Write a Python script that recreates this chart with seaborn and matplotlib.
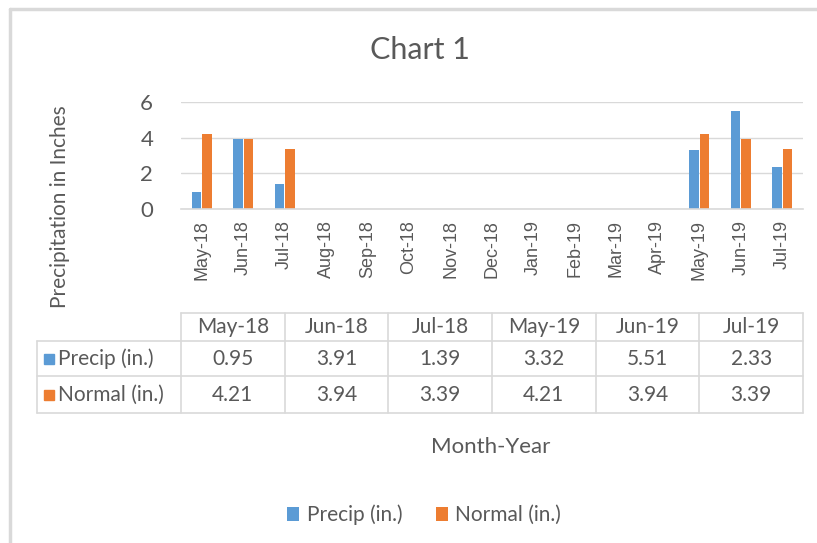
import numpy as np
import pandas as pd
import seaborn as sns
import matplotlib.pyplot as plt
from matplotlib.lines import Line2D
from matplotlib.patches import Patch

# data
months = ["May-18", "Jun-18", "Jul-18", "Aug-18", "Sep-18", "Oct-18", "Nov-18",
          "Dec-18", "Jan-19", "Feb-19", "Mar-19", "Apr-19", "May-19", "Jun-19", "Jul-19"]
nan = np.nan
precip = [0.95, 3.91, 1.39, nan, nan, nan, nan, nan, nan, nan, nan, nan, 3.32, 5.51, 2.33]
normal = [4.21, 3.94, 3.39, nan, nan, nan, nan, nan, nan, nan, nan, nan, 4.21, 3.94, 3.39]
series = ["Precip (in.)", "Normal (in.)"]
colors = ["#5B9BD5", "#ED7D31"]

df = pd.DataFrame({
    "month": months * 2,
    "value": precip + normal,
    "series": [series[0]] * len(months) + [series[1]] * len(months),
})

TXT = "#595959"
GRID = "#D9D9D9"

sns.set_theme(style="white")
plt.rcParams["font.family"] = ["Lato", "DejaVu Sans"]
plt.rcParams["text.color"] = TXT

W, H = 817, 543
fig = plt.figure(figsize=(W / 100, H / 100), dpi=100)


def box(x0, y0, x1, y1):
    # pixel box -> figure fraction rect
    return [x0 / W, 1 - y1 / H, (x1 - x0) / W, (y1 - y0) / H]


# === bar chart ===
ax = fig.add_axes(box(181, 102, 803, 209))
sns.barplot(
    data=df, x="month", y="value", hue="series", order=months,
    hue_order=series, palette=colors, width=0.5, gap=0.1, saturation=1,
    errorbar=None, linewidth=0, legend=False, ax=ax,
)
ax.set_ylim(0, 6)
ax.set_xlim(-0.5, len(months) - 0.5)
ax.set_yticks([0, 2, 4, 6])
ax.yaxis.grid(True, color=GRID, linewidth=1)
ax.set_axisbelow(True)
for s in ["top", "right", "left"]:
    ax.spines[s].set_visible(False)
ax.spines["bottom"].set_color(GRID)
ax.spines["bottom"].set_linewidth(1.2)
ax.set_xlabel("")
ax.set_ylabel("")
ax.tick_params(axis="y", length=0, labelsize=16, labelcolor=TXT, pad=20)
ax.set_xticks(range(len(months)))
ax.set_xticklabels(months, rotation=90, fontsize=13, color=TXT,
                   family=["Liberation Sans", "DejaVu Sans"])
ax.tick_params(axis="x", which="major", length=0, pad=8)
ax.set_xticks(np.arange(-0.5, len(months)), minor=True)
ax.tick_params(axis="x", which="minor", length=6, color=GRID, width=1.2)

# === data table ===
tab = fig.add_axes(box(37, 313, 803, 413))
label_w = 144 / 103.7
row_edges = [0, 0.8, 1.8, 2.85]
tab.set_xlim(-label_w, 6)
tab.set_ylim(row_edges[-1], 0)
tab.axis("off")

shown = [i for i, v in enumerate(precip) if not np.isnan(v)]
rows = [precip, normal]

for k, r in enumerate(row_edges):
    x0 = 0 if k == 0 else -label_w
    tab.plot([x0, 6], [r, r], color=GRID, lw=1.2, clip_on=False)
for c in range(7):
    tab.plot([c, c], [0, row_edges[-1]], color=GRID, lw=1.2, clip_on=False)
tab.plot([-label_w, -label_w], [row_edges[1], row_edges[-1]], color=GRID, lw=1.2,
         clip_on=False)

for j, i in enumerate(shown):
    tab.text(j + 0.5, (row_edges[0] + row_edges[1]) / 2, months[i],
             ha="center", va="center", fontsize=15, color=TXT)
    for r, vals in enumerate(rows):
        yc = (row_edges[r + 1] + row_edges[r + 2]) / 2
        tab.text(j + 0.5, yc, f"{vals[i]:.2f}", ha="center", va="center",
                 fontsize=15, color=TXT)

for r, name in enumerate(series):
    yc = (row_edges[r + 1] + row_edges[r + 2]) / 2
    tab.plot([-label_w + 0.12], [yc], marker="s", ms=7, color=colors[r],
             clip_on=False)
    tab.text(-label_w + 0.2, yc, name, ha="left", va="center", fontsize=15,
             color=TXT)

# === titles & labels ===
fig.text(420 / W, 1 - 50 / H, "Chart 1", ha="center", va="center",
         fontsize=22, color=TXT)
fig.text(60 / W, 1 - 207 / H, "Precipitation in Inches", ha="center",
         va="center", rotation=90, fontsize=15, color=TXT)
fig.text(491 / W, 1 - 447 / H, "Month-Year", ha="center", va="center",
         fontsize=16, color=TXT)

handles = [Patch(facecolor=c, edgecolor="none", label=s) for s, c in zip(series, colors)]
fig.legend(handles=handles, loc="center", bbox_to_anchor=(424 / W, 1 - 515 / H),
           ncol=2, frameon=False, fontsize=15, handlelength=0.6,
           handleheight=0.6, handletextpad=0.35, columnspacing=1.6,
           labelcolor=TXT)

# chart frame (top and left edges)
fig.add_artist(Line2D([10 / W, 1], [1 - 9 / H, 1 - 9 / H], color="#D9D9D9", lw=2.5))
fig.add_artist(Line2D([10 / W, 10 / W], [0, 1 - 9 / H], color="#D9D9D9", lw=2.5))

fig.savefig("out.png", dpi=100)
